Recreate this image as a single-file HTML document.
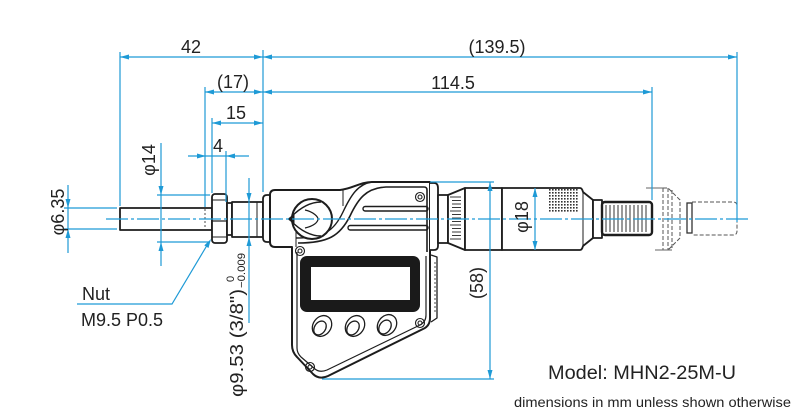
<!DOCTYPE html>
<html><head><meta charset="utf-8">
<style>
html,body{margin:0;padding:0;background:#fff;}
svg{display:block;}
text{font-family:"Liberation Sans",Arial,sans-serif;fill:#222;}
</style></head>
<body>
<svg width="800" height="420" viewBox="0 0 800 420" xmlns="http://www.w3.org/2000/svg">
<defs>
<pattern id="knurl" width="3" height="3" patternUnits="userSpaceOnUse">
<rect width="3" height="3" fill="#fff"/>
<rect width="1.6" height="1.6" fill="#333"/>
</pattern>
</defs>
<rect width="800" height="420" fill="#fff"/>

<!-- ============ BODY DRAWING ============ -->
<g fill="none" stroke="#1d1d1d" stroke-width="1.8" stroke-linejoin="round">
<!-- spindle -->
<rect x="120" y="208" width="92" height="22" fill="#fff"/>
<line x1="205" y1="209" x2="205" y2="229" stroke-width="0.8" stroke-dasharray="2 2"/>
<!-- nut -->
<rect x="212" y="194" width="15" height="49" rx="3" fill="#fff"/>
<line x1="212" y1="200" x2="227" y2="200" stroke-width="1"/>
<line x1="212" y1="221" x2="227" y2="221" stroke-width="1.2"/>
<line x1="212" y1="237" x2="227" y2="237" stroke-width="1"/>
<!-- neck -->
<rect x="227" y="203" width="5" height="32" fill="#fff"/>
<!-- stem -->
<rect x="232" y="202" width="31" height="35" fill="#fff"/>
<line x1="257" y1="202" x2="257" y2="237" stroke-width="1"/>
<!-- collar -->
<path d="M270,195 L267,195 Q263,195 263,199 L263,238 Q263,242 267,242 L270,242" fill="#fff"/>

<!-- main housing outer -->
<path d="M275,190 L340,190 C352,189 360,182 372,182 L430,182 L430,318 Q430,326 423,329 L328,376 Q319,380 313,374 L297,357 Q292,352 292,345 L292,247 L275,247 Q270,247 270,242 L270,195 Q270,190 275,190 Z" fill="#fff" stroke-width="2"/>
<!-- inner offset line of display body -->
<path d="M297,252 L297,348 Q297,353 301,357 L315,369 Q320,373 327,370 L420,325 Q426,322 426,315 L426,256" stroke-width="1.2"/>
<!-- head inner curves -->
<path d="M298,243 C328,243 340,236 350,216 C358,199 366,188 386,187 L424,187 Q427,187 427,190 L427,252" stroke-width="1.6"/>
<path d="M296,238 C324,238 334,231 343,212 C351,195 358,184 372,182" stroke-width="1.4"/>
<line x1="343" y1="189" x2="343" y2="206" stroke-width="1"/>
<line x1="296" y1="226" x2="296" y2="247" stroke-width="1"/>
<!-- bars -->
<rect x="363" y="206.5" width="65" height="4.5" rx="2.2" stroke-width="1.4"/>
<rect x="348" y="225.5" width="80" height="4.5" rx="2.2" stroke-width="1.4"/>
<!-- knob -->
<circle cx="312" cy="219" r="20" fill="#fff" stroke-width="2"/>
<path d="M291,217 C299,209 309,202 321,202" stroke-width="1.4"/>
<path d="M291,221 C299,229 309,236 321,236" stroke-width="1.4"/>
<path d="M305,210 C314,212 318,217 318,219 C318,222 314,226 305,228" stroke-width="1.2"/>
<path d="M288,219 L294,215 L294,223 Z" fill="#1d1d1d" stroke-width="1"/>

<!-- display -->
<rect x="300" y="256" width="120" height="56" rx="7" fill="#1a1a1a" stroke="none"/>
<rect x="311" y="267" width="99" height="33" fill="#fff" stroke="none"/>
<!-- buttons -->
<g stroke-width="1.3">
<ellipse cx="322" cy="326" rx="9" ry="11" transform="rotate(35 322 326)"/>
<ellipse cx="320" cy="328" rx="5.5" ry="7.5" transform="rotate(35 320 328)"/>
<ellipse cx="355" cy="326" rx="9" ry="11" transform="rotate(35 355 326)"/>
<ellipse cx="353" cy="328" rx="5.5" ry="7.5" transform="rotate(35 353 328)"/>
<ellipse cx="387" cy="325" rx="9" ry="11" transform="rotate(35 387 325)"/>
<ellipse cx="385" cy="327" rx="5.5" ry="7.5" transform="rotate(35 385 327)"/>
</g>
<!-- screws -->
<g stroke-width="1.1">
<circle cx="420" cy="197" r="4.5"/><circle cx="420" cy="197" r="2"/>
<circle cx="300" cy="251" r="4.5"/><circle cx="300" cy="251" r="2"/>
<circle cx="420" cy="323" r="4.5"/><circle cx="420" cy="323" r="2"/>
<circle cx="310" cy="367" r="4.5"/><circle cx="310" cy="367" r="2"/>
</g>
<!-- side panel -->
<path d="M431,255 L437,257 L437,318 L431,322" stroke-width="1.3"/>
<line x1="435" y1="262" x2="435" y2="314" stroke-width="0.8" stroke-dasharray="2 2"/>

<!-- sleeve collar -->
<path d="M430,183 L434,183 Q438,183 438,188 L438,246 Q438,250 434,250 L430,250" fill="#fff"/>
<rect x="438" y="195" width="10" height="48" fill="#fff"/>
<!-- bevel -->
<path d="M448,195 L465,188 L465,250 L448,243 Z" fill="#fff"/>
<!-- thimble -->
<rect x="465" y="188" width="37" height="62" fill="#fff"/>
<path d="M502,188 L580,188 Q582,188 583,192 L593,200 L593,238 L583,246 Q582,250 580,250 L502,250 Z" fill="#fff"/>
<line x1="583" y1="192" x2="583" y2="246" stroke-width="1"/>
<rect x="593" y="200" width="9" height="38" fill="#fff"/>
<!-- ratchet -->
<rect x="602" y="202" width="50" height="33" rx="3" fill="#fff" stroke-width="2.4"/>
</g>
<!-- bevel graduations -->
<g stroke="#222" stroke-width="0.9">
<line x1="450" y1="197" x2="461" y2="197"/><line x1="452" y1="200.5" x2="461" y2="200.5"/>
<line x1="452" y1="204" x2="461" y2="204"/><line x1="452" y1="207.5" x2="461" y2="207.5"/>
<line x1="450" y1="211" x2="461" y2="211"/><line x1="452" y1="214.5" x2="461" y2="214.5"/>
<line x1="452" y1="218" x2="461" y2="218"/><line x1="452" y1="221.5" x2="461" y2="221.5"/>
<line x1="450" y1="225" x2="461" y2="225"/><line x1="452" y1="228.5" x2="461" y2="228.5"/>
<line x1="452" y1="232" x2="461" y2="232"/><line x1="452" y1="235.5" x2="461" y2="235.5"/>
<line x1="450" y1="239" x2="461" y2="239"/>
</g>
<!-- knurl patch -->
<rect x="548" y="189" width="30" height="24" fill="url(#knurl)"/>
<!-- ratchet stripes -->
<g stroke="#333" stroke-width="1">
<line x1="606" y1="205" x2="606" y2="232"/><line x1="610" y1="205" x2="610" y2="232"/>
<line x1="614" y1="205" x2="614" y2="232"/><line x1="618" y1="205" x2="618" y2="232"/>
<line x1="622" y1="205" x2="622" y2="232"/><line x1="626" y1="205" x2="626" y2="232"/>
<line x1="630" y1="205" x2="630" y2="232"/><line x1="634" y1="205" x2="634" y2="232"/>
<line x1="638" y1="205" x2="638" y2="232"/><line x1="642" y1="205" x2="642" y2="232"/>
<line x1="646" y1="205" x2="646" y2="232"/>
</g>
<!-- phantom outline -->
<g fill="none" stroke="#555" stroke-width="1" stroke-dasharray="4 2">
<line x1="663" y1="188" x2="663" y2="250"/>
<line x1="668" y1="188" x2="668" y2="250"/>
<line x1="672" y1="190" x2="672" y2="248"/>
<path d="M663,188 L668,188 L680,200 L680,238 L668,250 L663,250"/>
<path d="M692,202 L733,202 Q737,202 737,206 L737,231 Q737,235 733,235 L692,235"/>
</g>
<rect x="687" y="203" width="5" height="30" fill="none" stroke="#333" stroke-width="1.3"/>
<g stroke="#666" stroke-width="1">
<line x1="646" y1="188" x2="663" y2="188"/>
<line x1="655" y1="250" x2="672" y2="250"/>
</g>

<!-- ============ DIMENSIONS (blue) ============ -->
<g stroke="#1e9ad6" stroke-width="1.2" fill="none">
<!-- centerline -->
<line x1="106" y1="219" x2="748" y2="219" stroke-dasharray="22 3 3 3"/>
<!-- horizontal dims -->
<line x1="120" y1="57" x2="737" y2="57"/>
<line x1="205" y1="92" x2="652" y2="92"/>
<line x1="212" y1="123" x2="263" y2="123"/>
<line x1="188" y1="156" x2="249" y2="156"/>
<!-- extension lines -->
<line x1="120" y1="52" x2="120" y2="206"/>
<line x1="263" y1="50" x2="263" y2="192"/>
<line x1="205" y1="87" x2="205" y2="207"/>
<line x1="212" y1="118" x2="212" y2="193"/>
<line x1="226" y1="151" x2="226" y2="202"/>
<line x1="652" y1="87" x2="652" y2="200"/>
<line x1="737" y1="52" x2="737" y2="222"/>
<!-- phi 6.35 -->
<line x1="68" y1="185" x2="68" y2="253"/>
<line x1="64" y1="208" x2="117" y2="208"/>
<line x1="64" y1="229" x2="117" y2="229"/>
<!-- phi 14 -->
<line x1="161" y1="143" x2="161" y2="266"/>
<line x1="157" y1="195" x2="210" y2="195"/>
<line x1="157" y1="242" x2="210" y2="242"/>
<!-- phi 9.53 -->
<line x1="249" y1="178" x2="249" y2="323"/>
<!-- phi 18 -->
<line x1="535" y1="188" x2="535" y2="250"/>
<!-- (58) -->
<line x1="490" y1="182" x2="490" y2="379"/>
<line x1="430" y1="182" x2="494" y2="182"/>
<line x1="322" y1="379" x2="494" y2="379"/>
<!-- nut leader -->
<polyline points="77,304 172,304 209,242"/>
</g>
<g fill="#1e9ad6" stroke="none">
<!-- 42 / 139.5 -->
<polygon points="120,57 129,54.5 129,59.5"/>
<polygon points="263,57 254,54.5 254,59.5"/>
<polygon points="263,57 272,54.5 272,59.5"/>
<polygon points="737,57 728,54.5 728,59.5"/>
<!-- 17 / 114.5 -->
<polygon points="205,92 214,89.5 214,94.5"/>
<polygon points="263,92 254,89.5 254,94.5"/>
<polygon points="263,92 272,89.5 272,94.5"/>
<polygon points="652,92 643,89.5 643,94.5"/>
<!-- 15 -->
<polygon points="212,123 221,120.5 221,125.5"/>
<polygon points="263,123 254,120.5 254,125.5"/>
<!-- 4 -->
<polygon points="206,156 197,153.5 197,158.5"/>
<polygon points="226,156 235,153.5 235,158.5"/>
<!-- phi 6.35 -->
<polygon points="68,208 65.5,199 70.5,199"/>
<polygon points="68,229 65.5,238 70.5,238"/>
<!-- phi 14 -->
<polygon points="161,195 158.5,186 163.5,186"/>
<polygon points="161,242 158.5,251 163.5,251"/>
<!-- phi 9.53 -->
<polygon points="249,202 246.5,193 251.5,193"/>
<polygon points="249,237 246.5,246 251.5,246"/>
<!-- phi 18 -->
<polygon points="535,188 532.5,197 537.5,197"/>
<polygon points="535,250 532.5,241 537.5,241"/>
<!-- 58 -->
<polygon points="490,182 487.5,191 492.5,191"/>
<polygon points="490,379 487.5,370 492.5,370"/>
<!-- nut leader arrow -->
<polygon points="211,239 208.5,248 204.3,245.4"/>
</g>

<!-- ============ TEXT ============ -->
<g font-size="18">
<text x="191" y="53" text-anchor="middle">42</text>
<text x="497" y="53" text-anchor="middle">(139.5)</text>
<text x="233" y="88" text-anchor="middle">(17)</text>
<text x="453" y="89" text-anchor="middle">114.5</text>
<text x="236" y="119" text-anchor="middle">15</text>
<text x="218" y="152" text-anchor="middle">4</text>
<text x="82" y="300">Nut</text>
<text x="81" y="326">M9.5 P0.5</text>
<text transform="translate(155,160) rotate(-90)" text-anchor="middle">φ14</text>
<text transform="translate(64,212) rotate(-90)" text-anchor="middle">φ6.35</text>
<text transform="translate(243,343) rotate(-90)" text-anchor="middle" textLength="108" lengthAdjust="spacingAndGlyphs">φ9.53 (3/8")</text>
<text transform="translate(528,217) rotate(-90)" text-anchor="middle">φ18</text>
<text transform="translate(483,283) rotate(-90)" text-anchor="middle">(58)</text>
</g>
<g font-size="11">
<text transform="translate(234,282) rotate(-90)">0</text>
<text transform="translate(245,288) rotate(-90)" textLength="35" lengthAdjust="spacingAndGlyphs">−0.009</text>
</g>
<text x="548" y="379" font-size="19" textLength="188" lengthAdjust="spacingAndGlyphs">Model: MHN2-25M-U</text>
<text x="514" y="407" font-size="14" textLength="277" lengthAdjust="spacingAndGlyphs">dimensions in mm unless shown otherwise</text>
</svg>
</body></html>
